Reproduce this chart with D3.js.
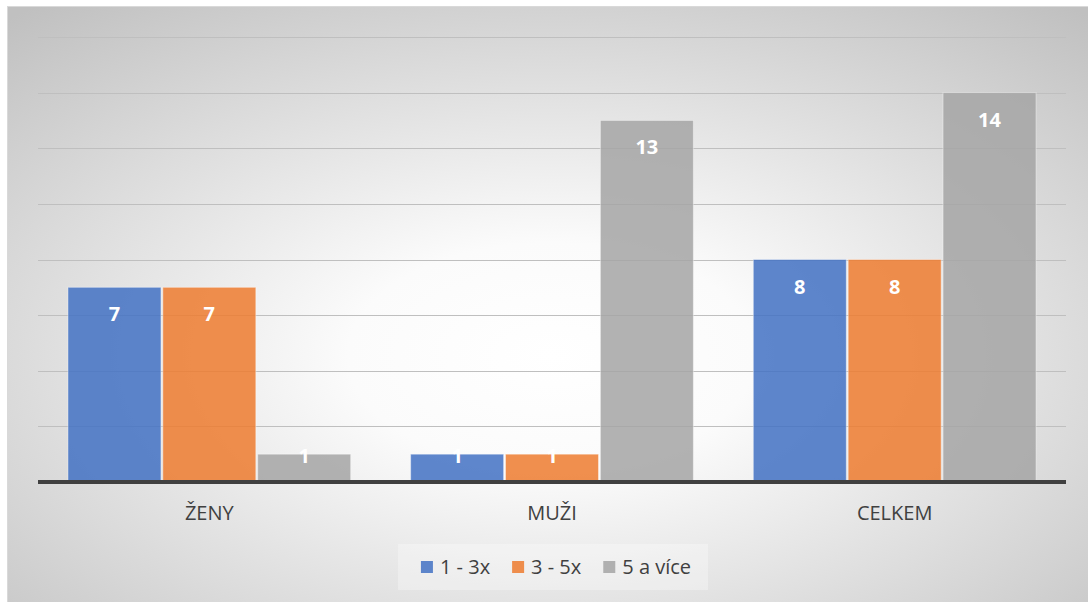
<!DOCTYPE html>
<html>
<head>
<meta charset="utf-8">
<script src="https://cdn.jsdelivr.net/npm/d3@7"></script>
<style>
  body { margin: 0; background: #fff; }
  text { font-family: "Open Sans", sans-serif; }
</style>
</head>
<body>
<script>
const width = 1088;
const height = 602;

const categories = ["ŽENY", "MUŽI", "CELKEM"];
const seriesNames = ["1 - 3x", "3 - 5x", "5 a více"];
const values13 = [7, 1, 8];
const values35 = [7, 1, 8];
const values5 = [1, 13, 14];
const gridTicks = [2, 4, 6, 8, 10, 12, 14, 16];
const colors = ["#4472C4", "#ED7D31", "#A5A5A5"];

const series = [values13, values35, values5];

const svg = d3.select("body")
    .append("svg")
    .attr("width", width)
    .attr("height", height);

// background radial gradient
const grad = svg.append("defs").append("radialGradient")
    .attr("id", "bg")
    .attr("cx", 0.5).attr("cy", 0.58).attr("r", 0.75);
grad.append("stop").attr("offset", "0%").attr("stop-color", "#ffffff");
grad.append("stop").attr("offset", "25%").attr("stop-color", "#fbfbfb");
grad.append("stop").attr("offset", "100%").attr("stop-color", "#c0c0c0");

svg.append("rect")
    .attr("x", 7.5).attr("y", 6.5)
    .attr("width", width).attr("height", height)
    .attr("fill", "url(#bg)")
    .attr("stroke", "#d9d9d9");

const x0 = d3.scaleBand()
    .domain(categories)
    .range([38, 1066])
    .paddingInner(0.175)
    .paddingOuter(0.0875);

const x1 = d3.scaleBand()
    .domain(d3.range(series.length))
    .range([0, x0.bandwidth()])
    .paddingInner(0.02);

const y = d3.scaleLinear()
    .domain([0, 16])
    .range([482, 37]);

// gridlines
svg.append("g")
    .selectAll("line")
    .data(gridTicks)
    .enter()
    .append("line")
    .attr("x1", 38).attr("x2", 1066)
    .attr("y1", d => Math.round(y(d)) + 0.5)
    .attr("y2", d => Math.round(y(d)) + 0.5)
    .attr("stroke", "#bfbfbf");

// bars
const groups = svg.append("g")
    .selectAll("g")
    .data(categories)
    .enter()
    .append("g")
    .attr("transform", d => `translate(${x0(d)},0)`);

groups.selectAll("rect")
    .data((c, i) => series.map((s, k) => ({k: k, v: s[i]})))
    .enter()
    .append("rect")
    .attr("x", d => x1(d.k))
    .attr("y", d => y(d.v))
    .attr("width", x1.bandwidth())
    .attr("height", d => y(0) - y(d.v))
    .attr("fill", d => colors[d.k])
    .attr("fill-opacity", 0.86)
    .attr("stroke", "#ffffff")
    .attr("stroke-opacity", 0.4);

groups.selectAll("text")
    .data((c, i) => series.map((s, k) => ({k: k, v: s[i]})))
    .enter()
    .append("text")
    .attr("x", d => x1(d.k) + x1.bandwidth() / 2)
    .attr("y", d => (y(0) - y(d.v) > 50 ? y(d.v) + 34 : y(d.v) + 9))
    .attr("text-anchor", "middle")
    .attr("fill", "#ffffff")
    .attr("font-weight", "bold")
    .attr("font-size", "20px")
    .text(d => d.v);

// baseline
svg.append("line")
    .attr("x1", 38).attr("x2", 1066)
    .attr("y1", 482).attr("y2", 482)
    .attr("stroke", "#404040")
    .attr("stroke-width", 4);

// category labels
svg.append("g")
    .selectAll("text")
    .data(categories)
    .enter()
    .append("text")
    .attr("x", d => x0(d) + x0.bandwidth() / 2)
    .attr("y", 520)
    .attr("text-anchor", "middle")
    .attr("fill", "#404040")
    .attr("font-size", "20px")
    .text(d => d);

// legend
svg.append("rect")
    .attr("x", 398).attr("y", 544)
    .attr("width", 310).attr("height", 46)
    .attr("fill", "#ffffff")
    .attr("fill-opacity", 0.3);

const legend = svg.append("g");
let lx = 0;
seriesNames.forEach((name, k) => {
    const item = legend.append("g").attr("transform", `translate(${lx},0)`);
    item.append("rect")
        .attr("x", 0).attr("y", 561)
        .attr("width", 12).attr("height", 12)
        .attr("fill", colors[k])
        .attr("fill-opacity", 0.86);
    const t = item.append("text")
        .attr("x", 19).attr("y", 574)
        .attr("fill", "#404040")
        .attr("font-size", "20px")
        .text(name);
    lx += 19 + t.node().getComputedTextLength() + 22;
});
const legendW = lx - 22;
legend.attr("transform", `translate(${556 - legendW / 2},0)`);
</script>
</body>
</html>
